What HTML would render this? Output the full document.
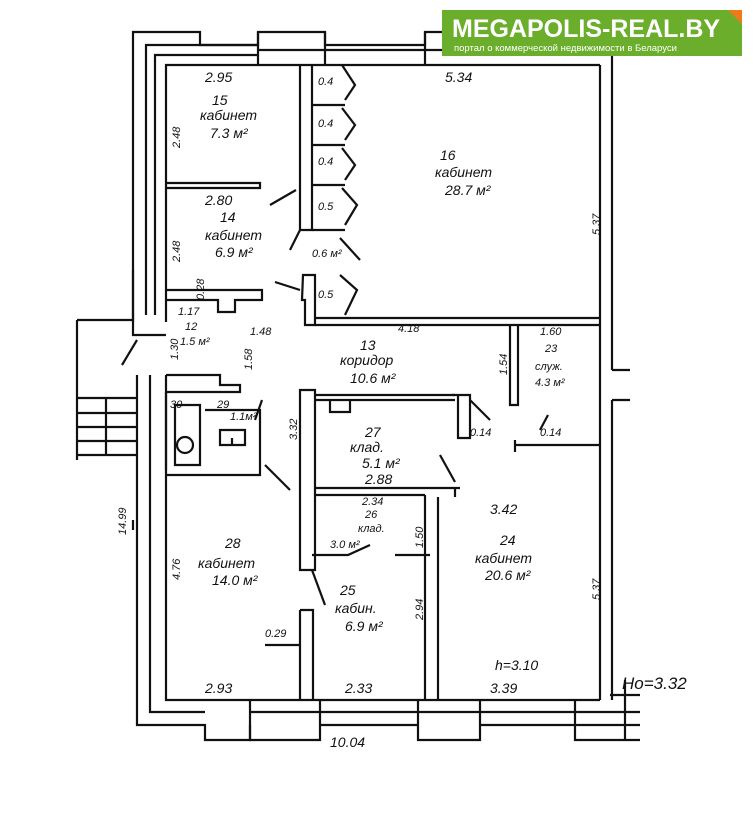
<!DOCTYPE html>
<html><head><meta charset="utf-8"><style>
html,body{margin:0;padding:0;background:#fff;}
svg{display:block}
text{font-family:"Liberation Sans",sans-serif;font-style:italic;fill:#111;}
.t{font-size:14px;}
.s{font-size:11px;}
</style></head><body>
<svg width="753" height="832" viewBox="0 0 753 832" xmlns="http://www.w3.org/2000/svg">
<g fill="none" stroke="#111" stroke-width="2.2">
<!-- outer top-left corner -->
<path d="M133 322 V32 H200 V45 H258 V32 H325 V45 H425 V32 H445"/>
<path d="M146 315 V45 H258"/>
<path d="M155 315 V55 H258"/>
<path d="M166 322 V65 H600"/>
<path d="M258 32 V65 M325 32 V65 M258 50 H325 M325 50 H425 M425 32 V65 M425 50 H445"/>
<!-- right wall -->
<path d="M600 65 V700 M612 55 V370 M612 400 V700"/>
<path d="M612 370 H630 M612 400 H630"/>
<!-- left lower wall -->
<path d="M137 375 V725 H205 V740 H250 V725"/>
<path d="M150 375 V712 H205"/>
<path d="M166 375 V700 H600"/>
<path d="M133 270 V335 H166 M133 520 V530"/>
<!-- bottom wall windows -->
<path d="M250 700 V740 H320 V700 M250 712 H320 M320 712 H418 M320 725 H418 M418 700 V740 H480 V700 M418 712 H480 M480 712 H575 M480 725 H575 M575 700 V740 H640 M575 712 H640 M575 725 H640"/>
<!-- entrance -->
<path d="M77 320 H133 M77 320 V460 M78 398 H137 M78 413 H137 M78 427 H137 M78 441 H137 M78 455 H137 M106 398 V455"/>
<path d="M137 340 L122 365"/>
<!-- interior partition 15/14 -->
<path d="M300 65 V230 H312 V65"/>
<path d="M166 183 H260 V188 H166"/>
<path d="M300 230 L290 250 M296 190 L270 205"/>
<!-- closets -->
<path d="M312 105 H345 M312 145 H345 M312 185 H345 M312 230 H345"/>
<path d="M342 65 L355 85 L345 100 M342 108 L355 125 L345 140 M342 148 L355 165 L345 180 M342 188 L357 205 L345 225 M340 238 L360 260"/>
<!-- lower closet -->
<path d="M303 275 H315 V325 H305 V300 H302 Z M315 275 V322 M340 275 L357 290 L345 315"/>
<path d="M300 290 L275 282"/>
<!-- corridor top wall -->
<path d="M315 318 H600 M315 325 H600"/>
<path d="M166 290 H262 V300 H235 V312 H218 V300 H166"/>
<!-- room 23 -->
<path d="M510 325 V405 H518 V325 M515 440 V445 H600 M515 440 V452 M548 415 L540 430"/>
<!-- corridor right stub -->
<path d="M452 395 H470 V438 H458 V395 M470 400 L490 420"/>
<!-- toilet block -->
<path d="M166 375 H220 V385 H240 V392 H166 M166 470 V392 M175 405 H200 V465 H175 Z M205 410 H260 V475 H166"/>
<circle cx="185" cy="445" r="8"/>
<path d="M220 430 H245 V445 H220 Z M232 438 V445"/>
<path d="M262 400 L255 420 M265 465 L290 490"/>
<!-- corridor left column -->
<path d="M300 390 H315 V570 H300 Z M315 395 H455 M315 400 H455 M330 400 V412 H350 V400"/>
<path d="M315 488 H460 M455 488 V497 M440 455 L455 482"/>
<path d="M315 495 H425 M312 555 H348 L370 545 M395 555 H430"/>
<path d="M425 495 V700 M438 497 V700"/>
<path d="M300 610 H313 V700 M300 610 V700 M265 645 H300"/>
<path d="M312 570 L325 605"/>
<!-- right dimension lines -->
<path d="M625 680 V740 M610 695 H640"/>
</g>
<!-- logo -->
<rect x="442" y="10" width="300" height="46" fill="#6aae2b"/>
<path d="M728 10 L742 10 L742 24 Z" fill="#f07a1a"/>
<text x="452" y="37" style="font-style:normal;font-weight:bold;font-size:25px;fill:#fff">MEGAPOLIS-REAL.BY</text>
<text x="454" y="51" style="font-style:normal;font-size:9.5px;fill:#fff">портал о коммерческой недвижимости в Беларуси</text>
<!-- labels -->
<text class="t" x="205" y="82">2.95</text>
<text class="t" x="445" y="82">5.34</text>
<text class="t" x="212" y="105">15</text>
<text class="t" x="200" y="120">кабинет</text>
<text class="t" x="210" y="138">7.3 м²</text>
<text class="s" x="318" y="85">0.4</text>
<text class="s" x="318" y="127">0.4</text>
<text class="s" x="318" y="165">0.4</text>
<text class="s" x="318" y="210">0.5</text>
<text class="s" x="318" y="298">0.5</text>
<text class="s" x="312" y="257">0.6 м²</text>
<text class="t" x="440" y="160">16</text>
<text class="t" x="435" y="177">кабинет</text>
<text class="t" x="445" y="195">28.7 м²</text>
<text class="t" x="205" y="205">2.80</text>
<text class="t" x="220" y="222">14</text>
<text class="t" x="205" y="240">кабинет</text>
<text class="t" x="215" y="257">6.9 м²</text>
<text class="s" x="178" y="315">1.17</text>
<text class="s" x="185" y="330">12</text>
<text class="s" x="180" y="345">1.5 м²</text>
<text class="s" x="250" y="335">1.48</text>
<text class="s" x="398" y="332">4.18</text>
<text class="t" x="360" y="350">13</text>
<text class="t" x="340" y="365">коридор</text>
<text class="t" x="350" y="383">10.6 м²</text>
<text class="s" x="540" y="335">1.60</text>
<text class="s" x="545" y="352">23</text>
<text class="s" x="535" y="370">служ.</text>
<text class="s" x="535" y="386">4.3 м²</text>
<text class="s" x="170" y="408">30</text>
<text class="s" x="217" y="408">29</text>
<text class="s" x="230" y="420">1.1м²</text>
<text class="s" x="470" y="436">0.14</text>
<text class="s" x="540" y="436">0.14</text>
<text class="t" x="365" y="437">27</text>
<text class="t" x="350" y="452">клад.</text>
<text class="t" x="362" y="468">5.1 м²</text>
<text class="t" x="365" y="484">2.88</text>
<text class="s" x="362" y="505">2.34</text>
<text class="s" x="365" y="518">26</text>
<text class="s" x="358" y="532">клад.</text>
<text class="s" x="330" y="548">3.0 м²</text>
<text class="t" x="490" y="514">3.42</text>
<text class="t" x="500" y="545">24</text>
<text class="t" x="475" y="563">кабинет</text>
<text class="t" x="485" y="580">20.6 м²</text>
<text class="t" x="225" y="548">28</text>
<text class="t" x="198" y="568">кабинет</text>
<text class="t" x="212" y="585">14.0 м²</text>
<text class="t" x="340" y="595">25</text>
<text class="t" x="335" y="613">кабин.</text>
<text class="t" x="345" y="631">6.9 м²</text>
<text class="s" x="265" y="637">0.29</text>
<text class="t" x="495" y="670">h=3.10</text>
<text class="t" x="205" y="693">2.93</text>
<text class="t" x="345" y="693">2.33</text>
<text class="t" x="490" y="693">3.39</text>
<text class="t" x="622" y="689" style="font-size:17px">Ho=3.32</text>
<text class="t" x="330" y="747">10.04</text>
<g class="s">
<text class="s" transform="translate(180,148) rotate(-90)">2.48</text>
<text class="s" transform="translate(180,262) rotate(-90)">2.48</text>
<text class="s" transform="translate(204,300) rotate(-90)">0.28</text>
<text class="s" transform="translate(178,360) rotate(-90)">1.30</text>
<text class="s" transform="translate(252,370) rotate(-90)">1.58</text>
<text class="s" transform="translate(297,440) rotate(-90)">3.32</text>
<text class="s" transform="translate(507,375) rotate(-90)">1.54</text>
<text class="s" transform="translate(600,235) rotate(-90)">5.37</text>
<text class="s" transform="translate(600,600) rotate(-90)">5.37</text>
<text class="s" transform="translate(423,548) rotate(-90)">1.50</text>
<text class="s" transform="translate(423,620) rotate(-90)">2.94</text>
<text class="s" transform="translate(180,580) rotate(-90)">4.76</text>
<text class="s" transform="translate(126,535) rotate(-90)">14.99</text>
</g>
</svg>
</body></html>
